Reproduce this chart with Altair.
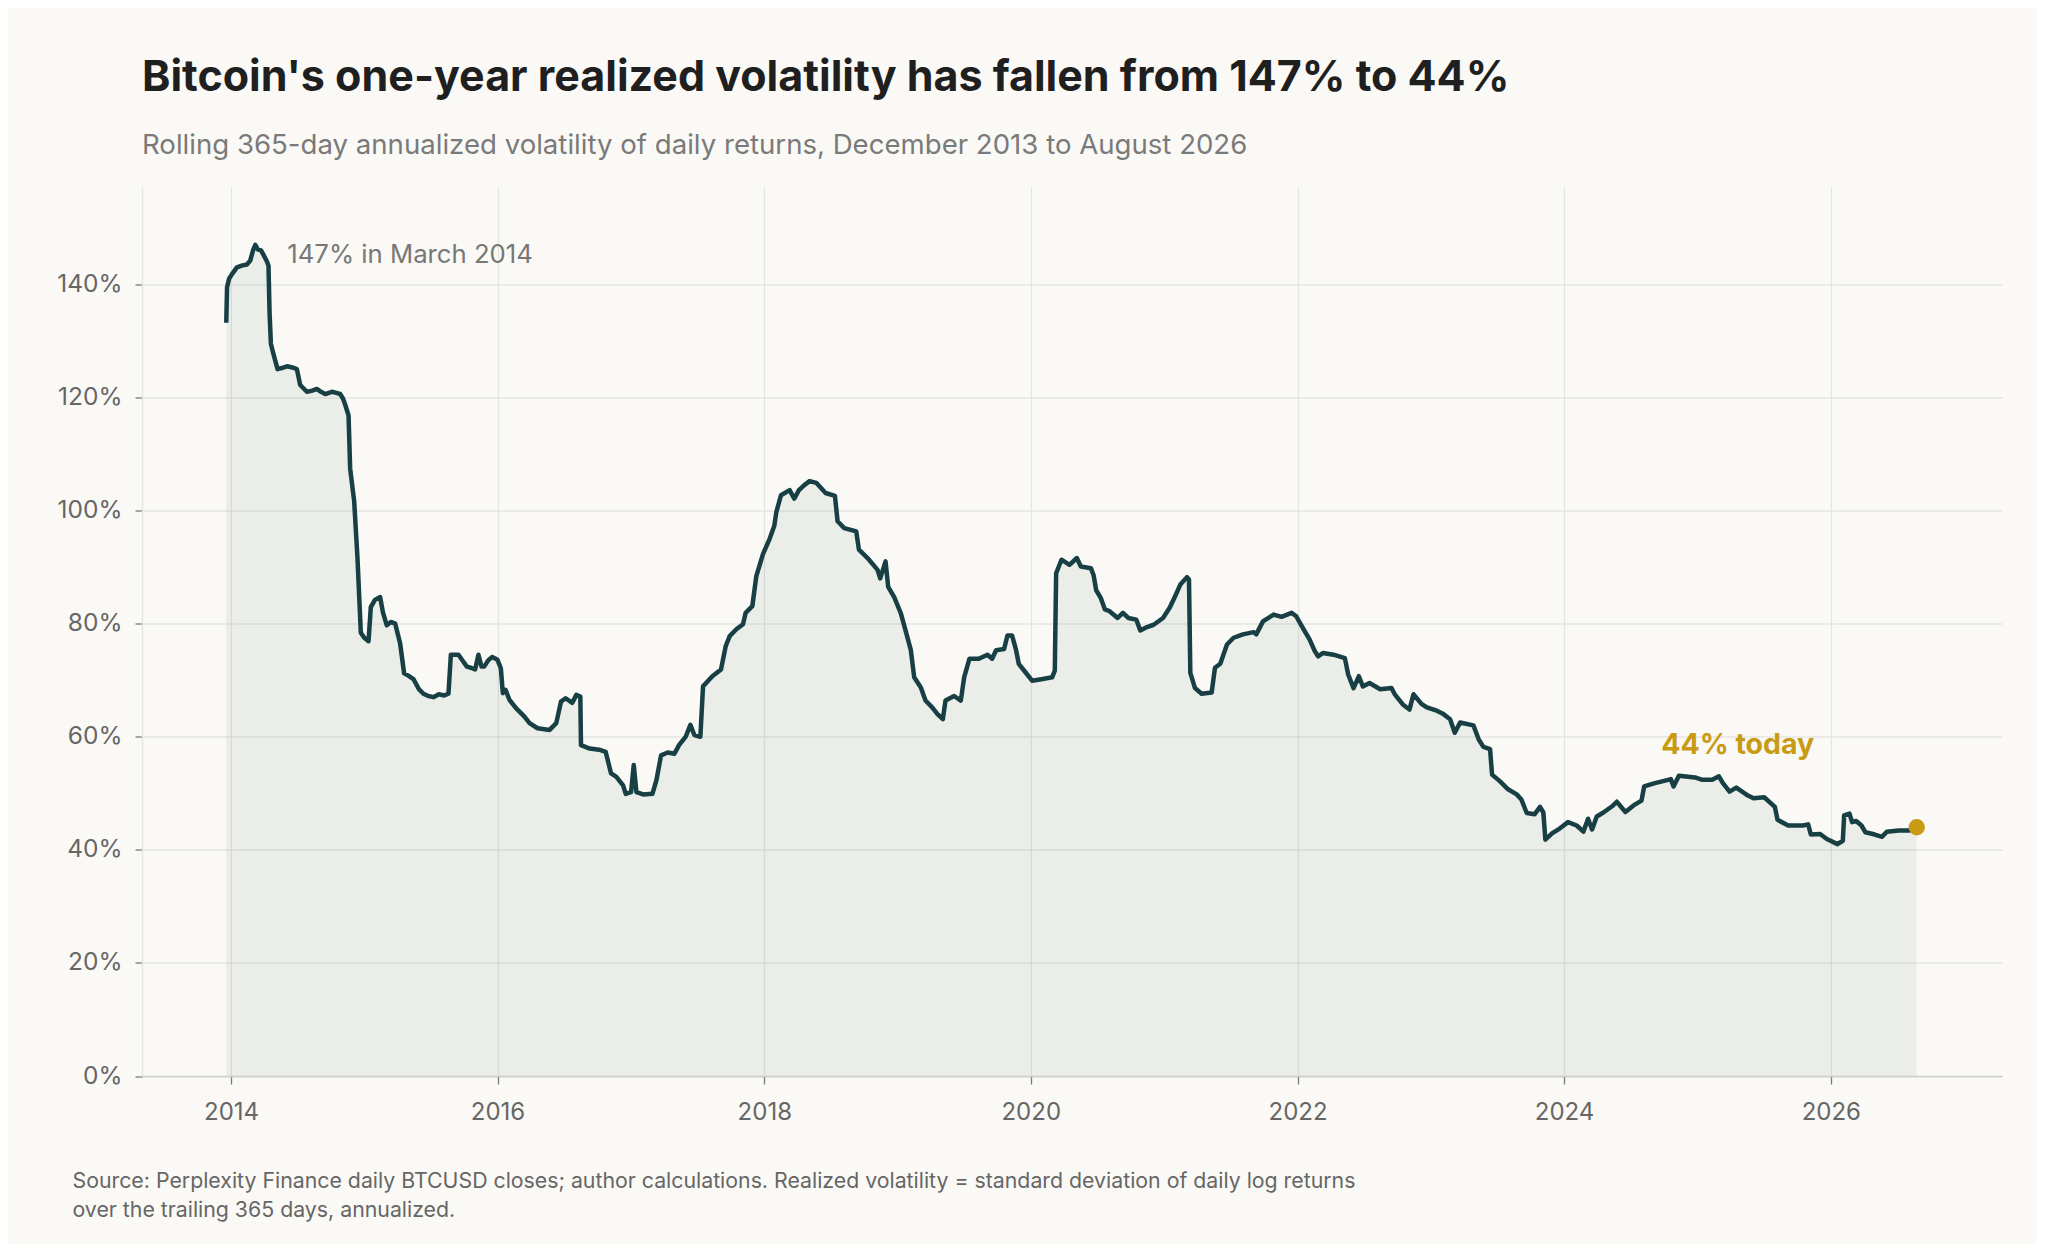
import altair as alt
import pandas as pd
import numpy as np

# ---- data (decimal year, annualized volatility in %) ----
years = [
    2013.964, 2013.970, 2013.985, 2014.007, 2014.044, 2014.080, 2014.119, 2014.144, 2014.165, 2014.182,
    2014.200, 2014.225, 2014.244, 2014.270, 2014.281, 2014.289, 2014.299, 2014.319, 2014.349, 2014.380,
    2014.419, 2014.460, 2014.494, 2014.519, 2014.569, 2014.610, 2014.644, 2014.675, 2014.707, 2014.757,
    2014.790, 2014.819, 2014.840, 2014.857, 2014.882, 2014.894, 2014.924, 2014.949, 2014.974, 2015.000,
    2015.032, 2015.049, 2015.080, 2015.119, 2015.140, 2015.169, 2015.200, 2015.232, 2015.269, 2015.299,
    2015.330, 2015.369, 2015.410, 2015.444, 2015.480, 2015.519, 2015.560, 2015.600, 2015.632, 2015.650,
    2015.707, 2015.740, 2015.770, 2015.800, 2015.832, 2015.857, 2015.880, 2015.900, 2015.930, 2015.960,
    2016.000, 2016.025, 2016.040, 2016.060, 2016.090, 2016.140, 2016.200, 2016.240, 2016.300, 2016.390,
    2016.440, 2016.475, 2016.510, 2016.560, 2016.590, 2016.620, 2016.625, 2016.690, 2016.760, 2016.810,
    2016.850, 2016.890, 2016.940, 2016.960, 2017.000, 2017.020, 2017.040, 2017.090, 2017.160, 2017.190,
    2017.225, 2017.275, 2017.325, 2017.360, 2017.410, 2017.445, 2017.475, 2017.520, 2017.540, 2017.575,
    2017.610, 2017.675, 2017.710, 2017.740, 2017.790, 2017.840, 2017.860, 2017.910, 2017.940, 2017.990,
    2018.040, 2018.075, 2018.090, 2018.125, 2018.190, 2018.225, 2018.260, 2018.300, 2018.340, 2018.390,
    2018.460, 2018.530, 2018.550, 2018.600, 2018.690, 2018.710, 2018.775, 2018.850, 2018.870, 2018.910,
    2018.930, 2018.975, 2019.025, 2019.060, 2019.100, 2019.125, 2019.175, 2019.210, 2019.260, 2019.300,
    2019.340, 2019.360, 2019.425, 2019.475, 2019.500, 2019.540, 2019.610, 2019.675, 2019.710, 2019.740,
    2019.800, 2019.825, 2019.860, 2019.890, 2019.910, 2019.960, 2020.010, 2020.090, 2020.160, 2020.180,
    2020.190, 2020.230, 2020.290, 2020.345, 2020.375, 2020.450, 2020.470, 2020.490, 2020.525, 2020.555,
    2020.590, 2020.650, 2020.690, 2020.730, 2020.790, 2020.820, 2020.870, 2020.920, 2020.990, 2021.040,
    2021.080, 2021.120, 2021.170, 2021.185, 2021.195, 2021.230, 2021.280, 2021.355, 2021.380, 2021.420,
    2021.470, 2021.520, 2021.590, 2021.670, 2021.690, 2021.740, 2021.820, 2021.880, 2021.955, 2021.990,
    2022.040, 2022.090, 2022.130, 2022.155, 2022.190, 2022.270, 2022.355, 2022.380, 2022.420, 2022.460,
    2022.490, 2022.540, 2022.620, 2022.705, 2022.730, 2022.790, 2022.840, 2022.870, 2022.930, 2022.970,
    2023.045, 2023.095, 2023.145, 2023.180, 2023.220, 2023.320, 2023.360, 2023.395, 2023.445, 2023.460,
    2023.520, 2023.580, 2023.645, 2023.680, 2023.720, 2023.780, 2023.820, 2023.845, 2023.860, 2023.910,
    2023.970, 2024.030, 2024.095, 2024.145, 2024.180, 2024.210, 2024.245, 2024.295, 2024.360, 2024.395,
    2024.460, 2024.530, 2024.580, 2024.600, 2024.680, 2024.750, 2024.800, 2024.820, 2024.860, 2024.980,
    2025.030, 2025.110, 2025.160, 2025.190, 2025.240, 2025.290, 2025.370, 2025.420, 2025.500, 2025.580,
    2025.600, 2025.680, 2025.790, 2025.830, 2025.850, 2025.920, 2025.970, 2026.050, 2026.090, 2026.100,
    2026.140, 2026.160, 2026.190, 2026.230, 2026.260, 2026.330, 2026.385, 2026.420, 2026.510, 2026.590,
    2026.645,
]
vol = [
    133.2, 139.5, 141.0, 141.8, 143.0, 143.3, 143.5, 144.2, 146.0, 147.0,
    146.2, 146.0, 145.2, 144.0, 143.3, 135.0, 129.5, 127.6, 125.0, 125.2,
    125.5, 125.3, 125.0, 122.2, 121.0, 121.2, 121.5, 121.0, 120.6, 121.0,
    120.8, 120.6, 119.8, 118.7, 116.8, 107.4, 101.7, 91.6, 78.4, 77.5,
    76.9, 82.9, 84.2, 84.7, 82.0, 79.7, 80.3, 80.0, 76.5, 71.2,
    70.8, 70.2, 68.4, 67.6, 67.2, 67.0, 67.5, 67.3, 67.6, 74.5,
    74.5, 73.4, 72.4, 72.2, 71.9, 74.5, 72.4, 72.4, 73.5, 74.1,
    73.6, 72.1, 67.7, 68.3, 66.5, 65.0, 63.6, 62.4, 61.5, 61.2,
    62.4, 66.2, 66.8, 66.0, 67.4, 67.1, 58.5, 57.9, 57.7, 57.3,
    53.5, 52.9, 51.4, 49.9, 50.2, 55.0, 50.2, 49.8, 49.9, 52.3,
    56.7, 57.2, 57.0, 58.5, 60.0, 62.1, 60.3, 60.0, 68.9, 69.8,
    70.7, 71.9, 76.0, 77.8, 79.0, 79.9, 81.9, 83.1, 88.4, 92.3,
    95.0, 97.3, 99.7, 102.7, 103.6, 102.1, 103.6, 104.5, 105.2, 104.9,
    103.1, 102.6, 98.1, 96.9, 96.3, 93.1, 91.6, 89.5, 88.0, 91.0,
    86.5, 84.7, 81.8, 78.8, 75.3, 70.5, 68.7, 66.4, 65.2, 64.0,
    63.1, 66.4, 67.2, 66.4, 70.5, 73.8, 73.8, 74.5, 73.8, 75.3,
    75.5, 77.9, 77.9, 75.3, 72.9, 71.4, 69.9, 70.2, 70.5, 71.7,
    88.9, 91.3, 90.4, 91.6, 90.1, 89.8, 88.6, 85.9, 84.5, 82.5,
    82.2, 81.0, 81.9, 81.0, 80.7, 78.8, 79.4, 79.8, 81.0, 82.8,
    84.8, 86.9, 88.2, 87.8, 71.3, 68.6, 67.6, 67.8, 72.2, 72.9,
    76.3, 77.5, 78.1, 78.5, 78.1, 80.4, 81.6, 81.2, 81.9, 81.3,
    79.2, 77.2, 75.1, 74.2, 74.8, 74.5, 73.9, 71.0, 68.6, 70.7,
    68.9, 69.5, 68.4, 68.6, 67.5, 65.7, 64.8, 67.5, 65.8, 65.2,
    64.6, 64.0, 63.1, 60.7, 62.5, 62.0, 59.5, 58.2, 57.8, 53.3,
    52.1, 50.7, 49.8, 48.9, 46.5, 46.3, 47.6, 46.6, 41.8, 42.9,
    43.8, 44.9, 44.3, 43.2, 45.5, 43.6, 45.9, 46.6, 47.7, 48.5,
    46.7, 48.0, 48.7, 51.2, 51.8, 52.2, 52.5, 51.2, 53.1, 52.8,
    52.4, 52.4, 53.0, 51.8, 50.3, 51.0, 49.7, 49.1, 49.3, 47.6,
    45.3, 44.3, 44.3, 44.5, 42.7, 42.8, 41.9, 41.0, 41.6, 46.1,
    46.4, 44.9, 45.1, 44.3, 43.1, 42.7, 42.3, 43.2, 43.4, 43.4,
    44.0,
]

y_ticks = [0, 20, 40, 60, 80, 100, 120, 140]

title_text = "Bitcoin's one-year realized volatility has fallen from 147% to 44%"
subtitle_text = "Rolling 365-day annualized volatility of daily returns, December 2013 to August 2026"
footer_lines = [
    "Source: Perplexity Finance daily BTCUSD closes; author calculations. Realized volatility = standard deviation of daily log returns",
    "over the trailing 365 days, annualized.",
]
peak_label = "147% in March 2014"
today_label = "44% today"


def dec_to_date(y):
    yr = int(np.floor(y))
    start = pd.Timestamp(year=yr, month=1, day=1)
    end = pd.Timestamp(year=yr + 1, month=1, day=1)
    return (start + (end - start) * (y - yr)).strftime("%Y-%m-%dT%H:%M:%S")


df = pd.DataFrame({"date": [dec_to_date(y) for y in years], "vol": vol})
peak_df = df.loc[[df["vol"].idxmax()]].assign(label=peak_label)
last_df = df.iloc[[-1]].assign(label=today_label)

FONT = "Inter"
BG = "#FAF9F5"
LINE = "#173F44"
GOLD = "#C99A14"
GRID = "#E4E4E0"

x_enc = alt.X(
    "date:T",
    scale=alt.Scale(domain=[alt.DateTime(year=2013, month=5, date=2),
                            alt.DateTime(year=2027, month=4, date=15)]),
    axis=alt.Axis(
        format="%Y",
        tickCount={"interval": "year", "step": 2},
        grid=True, gridColor=GRID, gridWidth=1.3,
        domain=True, domainColor="#CFCFCB", domainWidth=1.5,
        ticks=True, tickColor="#7A7A7A", tickSize=8, tickWidth=1.3,
        labelFont=FONT, labelFontSize=24, labelColor="#666666", labelPadding=16,
        title=footer_lines, titleFont=FONT, titleFontSize=21.3, titleFontWeight="normal",
        titleColor="#666666", titleAlign="left", titleAnchor="start", titleBaseline="alphabetic",
        titleX=-70, titleY=111, titleLineHeight=29,
    ),
)
y_enc = alt.Y(
    "vol:Q",
    scale=alt.Scale(domain=[0, 157.3], nice=False, zero=True),
    axis=alt.Axis(
        values=y_ticks, labelExpr="datum.value + '%'",
        grid=True, gridColor=GRID, gridWidth=1.3,
        domain=True, domainColor=GRID, domainWidth=1.3,
        ticks=True, tickColor="#7A7A7A", tickSize=7, tickWidth=1.3,
        labelFont=FONT, labelFontSize=24.5, labelColor="#666666", labelPadding=13,
        title=None,
    ),
)

base = alt.Chart(df)
area = base.mark_area(color="#2A5A55", opacity=0.07).encode(x=x_enc, y=y_enc)
line = base.mark_line(color=LINE, strokeWidth=4.5, strokeJoin="round").encode(x="date:T", y="vol:Q")
dot = alt.Chart(last_df).mark_point(filled=True, size=270, color=GOLD, opacity=1).encode(x="date:T", y="vol:Q")
peak_text = alt.Chart(peak_df).mark_text(
    align="left", baseline="middle", dx=32, dy=10, font=FONT, fontSize=25.7, color="#777777"
).encode(x="date:T", y="vol:Q", text="label:N")
today_text = alt.Chart(last_df).mark_text(
    align="center", baseline="middle", dx=-179, dy=-82, font=FONT, fontSize=28.5,
    fontWeight="bold", color=GOLD
).encode(x="date:T", y="vol:Q", text="label:N")

chart = (
    alt.layer(area, line, dot, peak_text, today_text)
    .properties(
        width=1860,
        height=889.5,
        title=alt.TitleParams(
            text=title_text, subtitle=subtitle_text, anchor="start", frame="group",
            font=FONT, fontSize=43, fontWeight="bold", color="#1F1F1F",
            subtitleFont=FONT, subtitleFontSize=27.6, subtitleColor="#7A7A7A",
            subtitlePadding=32, offset=26.5,
        ),
        background=BG,
        padding={"left": 134, "top": 178.5, "right": 35, "bottom": 168},
        autosize=alt.AutoSizeParams(type="none"),
    )
    .configure_view(stroke=None)
)

chart.save("out.html", embed_options={"renderer": "svg", "actions": False})
